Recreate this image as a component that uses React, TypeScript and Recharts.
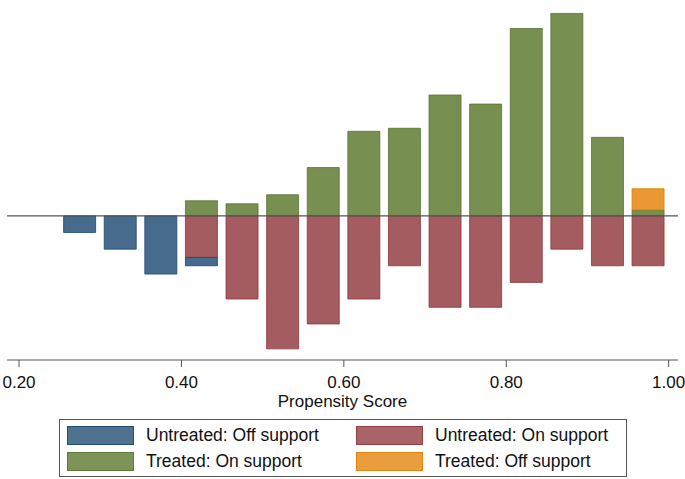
import { BarChart, Bar, XAxis, YAxis, ReferenceLine } from 'recharts';

// bin midpoints (bin width 0.05)
const binCenters = [
  0.275, 0.325, 0.375, 0.425, 0.475, 0.525, 0.575, 0.625, 0.675, 0.725, 0.775, 0.825,
  0.875, 0.925, 0.975,
];
const untreatedOffCounts = [2, 4, 7, 1, 0, 0, 0, 0, 0, 0, 0, 0, 0, 0, 0];
const untreatedOnCounts = [0, 0, 0, 5, 10, 16, 13, 10, 6, 11, 11, 8, 4, 6, 6];
const treatedOnCounts = [0, 0, 0, 5, 4, 7, 16, 28, 29, 40, 37, 62, 67, 26, 2];
const treatedOffCounts = [0, 0, 0, 0, 0, 0, 0, 0, 0, 0, 0, 0, 0, 0, 7];
const xTicks = [0.2, 0.4, 0.6, 0.8, 1.0];

const binWidth = 0.05;
const sum = (a: number[]) => a.reduce((s, v) => s + v, 0);
const nUntreated = sum(untreatedOffCounts) + sum(untreatedOnCounts);
const nTreated = sum(treatedOnCounts) + sum(treatedOffCounts);

// densities, untreated mirrored below zero
const data = binCenters.map((x, i) => ({
  x,
  treatedOn: treatedOnCounts[i] / (nTreated * binWidth),
  treatedOff: treatedOffCounts[i] / (nTreated * binWidth),
  untreatedOn: -untreatedOnCounts[i] / (nUntreated * binWidth),
  untreatedOff: -untreatedOffCounts[i] / (nUntreated * binWidth),
}));

const FONT = '"Liberation Sans", Arial, sans-serif';

const series = [
  { key: 'untreatedOff', name: 'Untreated: Off support', fill: '#476b8c', stroke: '#1a476f' },
  { key: 'untreatedOn', name: 'Untreated: On support', fill: '#a55c60', stroke: '#90353b' },
  { key: 'treatedOn', name: 'Treated: On support', fill: '#778f51', stroke: '#55752f' },
  { key: 'treatedOff', name: 'Treated: Off support', fill: '#e99833', stroke: '#e37e00' },
];

const stackOrder = ['treatedOn', 'treatedOff', 'untreatedOn', 'untreatedOff'];

export default function App() {
  return (
    <div style={{ position: 'absolute', left: 0, top: 0, width: 685, height: 479, background: '#fff', fontFamily: FONT }}>
      <BarChart
        width={685}
        height={479}
        data={data}
        stackOffset="sign"
        barSize={32}
        margin={{ top: 0, right: 7, left: 7, bottom: 69 }}
      >
        <XAxis
          dataKey="x"
          type="number"
          domain={[0.1852, 1.0115]}
          ticks={xTicks}
          allowDataOverflow
          tickFormatter={(v: number) => v.toFixed(2)}
          tickSize={7}
          tickMargin={9}
          height={50}
          stroke="#555"
          tick={{ fill: '#111', fontSize: 17, fontFamily: FONT }}
          label={{ value: 'Propensity Score', position: 'insideBottom', offset: 3, fill: '#111', fontSize: 17, fontFamily: FONT }}
        />
        <YAxis
          width={0}
          type="number"
          domain={[-2.89, 4.33]}
          allowDataOverflow
          tick={false}
          tickLine={false}
          axisLine={{ stroke: '#444', strokeWidth: 1.5 }}
        />
        <ReferenceLine y={0} stroke="#555" strokeWidth={1.2} />
        {stackOrder.map((k) => {
          const s = series.find((d) => d.key === k)!;
          return (
            <Bar
              key={k}
              dataKey={k}
              name={s.name}
              stackId="s"
              fill={s.fill}
              stroke={s.stroke}
              strokeOpacity={0.8}
              strokeWidth={1}
              isAnimationActive={false}
            />
          );
        })}
      </BarChart>
      <div
        style={{
          position: 'absolute',
          left: 59,
          top: 419,
          width: 566,
          height: 56,
          border: '1px solid #555',
        }}
      >
        {series.map((s, i) => {
          const col = i % 2;
          const row = Math.floor(i / 2);
          return (
            <div
              key={s.key}
              style={{
                position: 'absolute',
                left: col === 0 ? 7 : 296,
                top: row === 0 ? 6 : 32,
                height: 18,
                display: 'flex',
                alignItems: 'center',
                whiteSpace: 'nowrap',
              }}
            >
              <div
                style={{
                  width: 65,
                  height: 17,
                  background: s.fill,
                  border: `1px solid ${s.stroke}`,
                  opacity: 0.95,
                }}
              />
              <span style={{ marginLeft: 12, fontSize: 17.5, color: '#111', lineHeight: '18px' }}>{s.name}</span>
            </div>
          );
        })}
      </div>
    </div>
  );
}
